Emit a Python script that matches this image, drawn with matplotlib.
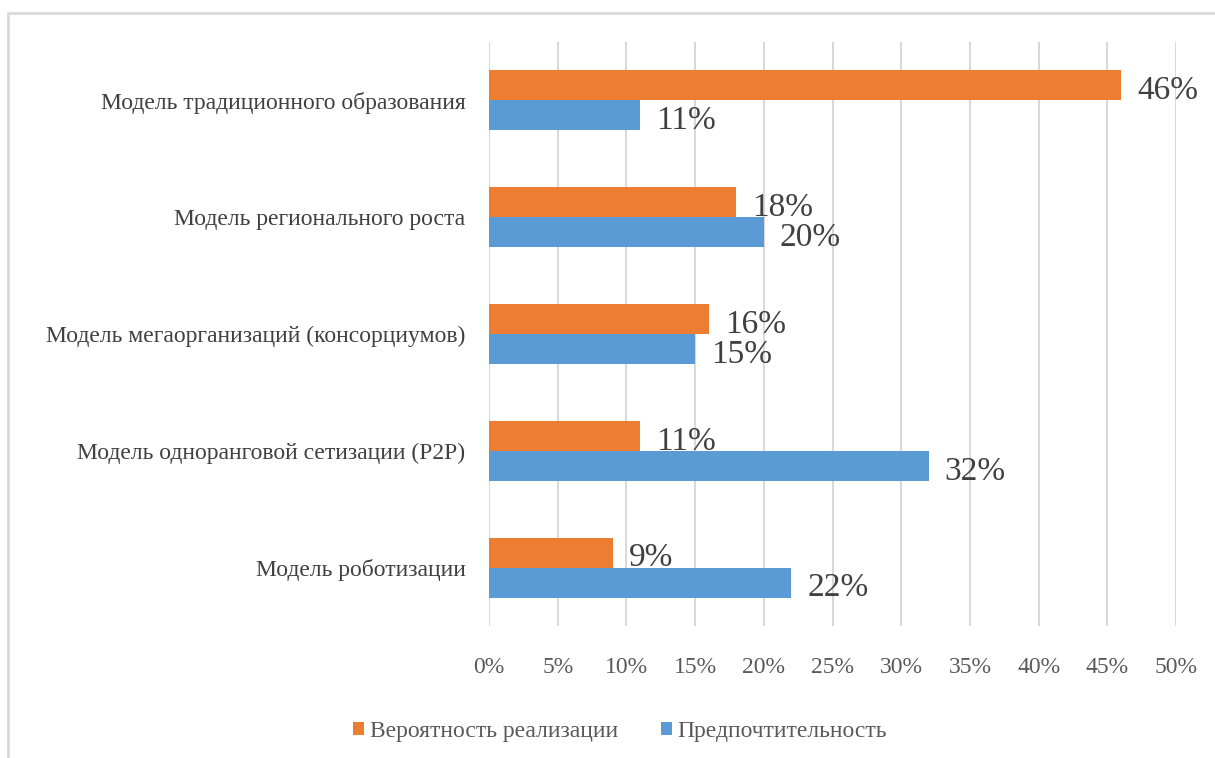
import numpy as np
import matplotlib.pyplot as plt
from matplotlib.patches import Rectangle

plt.rcParams['font.family'] = ['Liberation Serif', 'DejaVu Serif']

# categories from top to bottom
categories = [
    "Модель традиционного образования",
    "Модель регионального роста",
    "Модель мегаорганизаций (консорциумов)",
    "Модель одноранговой сетизации (P2P)",
    "Модель роботизации",
]
probability = [46, 18, 16, 11, 9]   # Вероятность реализации
preference = [11, 20, 15, 32, 22]   # Предпочтительность
ticks = [0, 5, 10, 15, 20, 25, 30, 35, 40, 45, 50]

orange = "#ED7D31"
blue = "#5B9BD5"

fig = plt.figure(figsize=(12.15, 7.58), dpi=100)
ax = fig.add_axes([489/1215, 1 - 626/758, (1176 - 489)/1215, (626 - 42)/758])

y = np.arange(len(categories))
h = 0.256
bars_o = ax.barh(y - h/2, probability, height=h, color=orange, label="Вероятность реализации")
bars_b = ax.barh(y + h/2, preference, height=h, color=blue, label="Предпочтительность")

for bars, vals in ((bars_o, probability), (bars_b, preference)):
    for b, v in zip(bars, vals):
        ax.annotate(f"{v}%", (b.get_width(), b.get_y() + b.get_height()/2),
                    xytext=(11.5, -4), textcoords="offset points", va="center", ha="left",
                    fontsize=24, color="#404040")

ax.set_xlim(0, 50)
ax.set_ylim(len(categories) - 0.5, -0.5)
ax.set_xticks(ticks)
ax.set_xticklabels([f"{t}%" for t in ticks])
ax.set_yticks(y)
ax.set_yticklabels(categories)
ax.tick_params(axis="x", length=0, pad=22, labelsize=17, labelcolor="#595959")
ax.tick_params(axis="y", length=0, pad=17, labelsize=17, labelcolor="#404040")
ax.xaxis.grid(True, color="#D9D9D9", linewidth=1.5)
ax.set_axisbelow(True)
for s in ax.spines.values():
    s.set_visible(False)

fig.legend(loc="center", bbox_to_anchor=(620/1215, 1 - 731/758), ncol=2, frameon=False,
           fontsize=17, labelcolor="#595959", handlelength=0.47, handleheight=0.47,
           handletextpad=0.25, columnspacing=1.8)

# outer frame of the chart area
fig.add_artist(Rectangle((8/1215, -0.05), 1.1, 1 - 13/758 + 0.05, transform=fig.transFigure,
                         fill=False, edgecolor="#D9D9D9", linewidth=2))

fig.savefig("out.png", dpi=100)
